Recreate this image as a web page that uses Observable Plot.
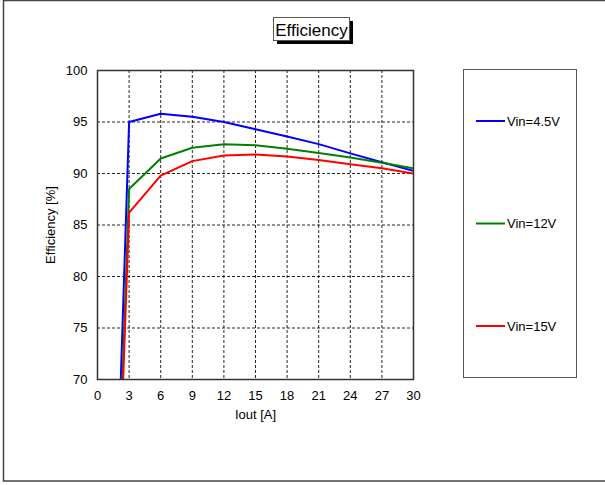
<!DOCTYPE html>
<html>
<head>
<meta charset="utf-8">
<script src="https://cdn.jsdelivr.net/npm/d3@7"></script>
<script src="https://cdn.jsdelivr.net/npm/@observablehq/plot@0.6"></script>
<style>
  html, body { margin: 0; padding: 0; background: #fff; }
  #chart svg { display: block; }
</style>
</head>
<body>
<div id="chart"></div>
<script>
// Data
const current = [0, 3, 6, 9, 12, 15, 18, 21, 24, 27, 30];            // Iout [A]
const vin45   = [0, 95.0, 95.8, 95.5, 95.0, 94.3, 93.6, 92.85, 91.95, 91.1, 90.25];
const vin12   = [0, 88.5, 91.45, 92.5, 92.85, 92.75, 92.4, 92.0, 91.55, 91.05, 90.5];
const vin15   = [0, 86.2, 89.8, 91.2, 91.75, 91.85, 91.65, 91.3, 90.9, 90.5, 90.0];
const seriesNames  = ["Vin=4.5V", "Vin=12V", "Vin=15V"];
const seriesColors = ["#0000ff", "#008000", "#ff0000"];
const xTicks = [0, 3, 6, 9, 12, 15, 18, 21, 24, 27, 30];
const yTicks = [70, 75, 80, 85, 90, 95, 100];
const title = "Efficiency";

const seriesValues = [vin45, vin12, vin15];
const data = [];
seriesNames.forEach((name, s) => {
  current.forEach((x, i) => data.push({series: name, x, y: seriesValues[s][i]}));
});

const W = 605, H = 485;
const font = "'Liberation Sans', Arial, sans-serif";

const plot = Plot.plot({
  width: W,
  height: H,
  marginLeft: 97,
  marginTop: 70,
  marginRight: 192,
  marginBottom: 106,
  style: {fontFamily: font, fontSize: "13px", color: "#000", background: "#fff"},
  x: {domain: [0, 30]},
  y: {domain: [70, 100]},
  color: {domain: seriesNames, range: seriesColors},
  marks: [
    Plot.gridX(xTicks.slice(1, -1), {stroke: "#000", strokeOpacity: 0.85, strokeDasharray: "3,2", strokeWidth: 1}),
    Plot.gridY(yTicks.slice(1, -1), {stroke: "#000", strokeOpacity: 0.85, strokeDasharray: "3,2", strokeWidth: 1}),
    Plot.line(data, {x: "x", y: "y", z: "series", stroke: "series", strokeWidth: 2, clip: true}),
    Plot.frame({stroke: "#333", strokeWidth: 1.5}),
    Plot.axisX({ticks: xTicks, tickSize: 0, tickPadding: 11, label: "Iout [A]", labelAnchor: "center", labelArrow: "none", labelOffset: 39, fontSize: 13}),
    Plot.axisY({ticks: yTicks, tickSize: 0, tickPadding: 10, label: "Efficiency [%]", labelAnchor: "center", labelArrow: "none", labelOffset: 52, fontSize: 13})
  ]
});

document.getElementById("chart").appendChild(plot);

// Decorations: outer frame, title box, legend box
const svg = d3.select(plot);
svg.append("rect")
  .attr("x", 3.5).attr("y", 0.5).attr("width", W + 10).attr("height", 480.5)
  .attr("fill", "none").attr("stroke", "#444").attr("stroke-width", 1.5);

const tg = svg.append("g");
tg.append("rect").attr("x", 277).attr("y", 21).attr("width", 76).attr("height", 23).attr("fill", "#000");
tg.append("rect").attr("x", 273.5).attr("y", 17.5).attr("width", 76).attr("height", 23)
  .attr("fill", "#fff").attr("stroke", "#555").attr("stroke-width", 1);
tg.append("text").attr("x", 311.5).attr("y", 35.5).attr("text-anchor", "middle")
  .attr("font-family", font).attr("font-size", 17).attr("fill", "#000").text(title);

const lg = svg.append("g");
lg.append("rect").attr("x", 463.5).attr("y", 69.5).attr("width", 113).attr("height", 308)
  .attr("fill", "#fff").attr("stroke", "#555").attr("stroke-width", 1);
const legendY = [121, 223.5, 326];
seriesNames.forEach((name, i) => {
  lg.append("line").attr("x1", 476).attr("x2", 505).attr("y1", legendY[i]).attr("y2", legendY[i])
    .attr("stroke", seriesColors[i]).attr("stroke-width", 2);
  lg.append("text").attr("x", 507).attr("y", legendY[i]).attr("dy", "0.35em")
    .attr("text-anchor", "start")
    .attr("font-family", font).attr("font-size", 13).attr("fill", "#000").text(name);
});
</script>
</body>
</html>
